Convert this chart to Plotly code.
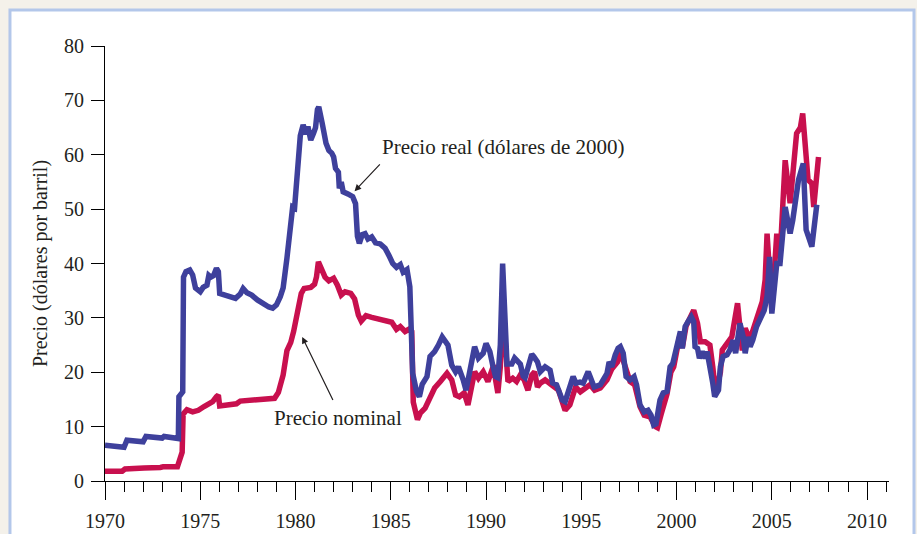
import plotly.graph_objects as go

# Precio nominal (dólares por barril)
anio_nominal = [
    1970.0, 1970.9, 1971.05, 1971.9, 1972.05, 1972.9, 1973.05, 1973.8, 1973.95, 1974.05,
    1974.1, 1974.3, 1974.6, 1974.9, 1975.2, 1975.45, 1975.65, 1975.85, 1975.95, 1976.02,
    1976.5, 1976.9, 1977.1, 1977.5, 1978.0, 1978.6, 1978.9, 1979.1, 1979.35, 1979.55,
    1979.75, 1979.9, 1980.1, 1980.3, 1980.45, 1980.8, 1981.0, 1981.1, 1981.2, 1981.35,
    1981.55, 1981.75, 1982.0, 1982.2, 1982.4, 1982.6, 1982.9, 1983.1, 1983.3, 1983.45,
    1983.7, 1984.0, 1984.4, 1984.8, 1985.05, 1985.3, 1985.5, 1985.75, 1986.0, 1986.1,
    1986.18, 1986.4, 1986.55, 1986.8, 1987.0, 1987.3, 1987.6, 1987.95, 1988.2, 1988.4,
    1988.6, 1988.85, 1989.05, 1989.4, 1989.6, 1989.85, 1990.1, 1990.2, 1990.4, 1990.5,
    1990.62, 1990.75, 1990.88, 1991.0, 1991.15, 1991.4, 1991.6, 1991.8, 1992.0, 1992.2,
    1992.4, 1992.55, 1992.7, 1992.85, 1993.1, 1993.4, 1993.8, 1994.15, 1994.4, 1994.7,
    1994.95, 1995.46, 1995.7, 1996.0, 1996.35, 1996.6, 1996.9, 1997.05, 1997.3, 1997.56,
    1997.8, 1998.08, 1998.3, 1998.6, 1998.9, 1999.0, 1999.2, 1999.5, 1999.7, 1999.85,
    2000.15, 2000.3, 2000.5, 2000.75, 2000.9, 2001.1, 2001.25, 2001.5, 2001.75, 2001.9,
    2002.05, 2002.3, 2002.4, 2002.9, 2003.2, 2003.45, 2003.6, 2003.85, 2004.2, 2004.5,
    2004.65, 2004.75, 2005.0, 2005.26, 2005.43, 2005.7, 2005.96, 2006.3, 2006.5, 2006.62,
    2006.9, 2007.1, 2007.2, 2007.45,
]
precio_nominal = [
    1.8, 1.8, 2.2, 2.2, 2.4, 2.5, 2.6, 2.6, 4.6, 5.3,
    12.3, 13.1, 12.7, 13.0, 13.7, 14.2, 14.6, 15.5, 15.8, 13.8,
    14.0, 14.2, 14.7, 14.8, 14.8, 14.9, 15.2, 16.3, 19.5, 24.0,
    25.5, 27.5, 30.5, 34.5, 35.4, 35.6, 36.2, 37.5, 40.3, 39.3,
    37.5, 36.8, 37.3, 36.0, 34.2, 34.8, 34.5, 33.5, 30.5, 29.4,
    30.4, 30.1, 29.8, 29.6, 29.2, 27.9, 28.4, 27.5, 28.0, 27.5,
    14.5, 11.3, 12.5, 13.4, 15.0, 17.1, 18.3, 19.8, 18.6, 15.8,
    15.5, 16.2, 14.0, 20.1, 18.9, 20.1, 18.3, 19.5, 21.3, 18.6,
    16.2, 21.0, 33.0, 26.0, 18.3, 18.9, 18.3, 19.5, 18.6, 16.7,
    19.5, 20.1, 17.3, 18.0, 18.6, 17.8, 16.7, 13.0, 14.0, 17.3,
    16.4, 17.7, 16.7, 17.1, 18.6, 20.6, 21.9, 23.8, 21.0, 18.3,
    17.7, 13.7, 12.1, 11.8, 10.0, 9.8, 12.4, 16.0, 20.0, 21.0,
    26.5, 24.5, 28.5, 30.5, 31.4, 29.0, 25.6, 25.6, 25.0, 21.0,
    16.1, 20.0, 24.1, 26.5, 32.7, 24.0, 28.1, 26.0, 30.2, 33.0,
    37.0, 45.5, 31.5, 45.5, 41.0, 59.0, 51.1, 63.9, 65.0, 67.6,
    55.4, 54.7, 50.4, 59.6,
]

# Precio real (dólares de 2000)
anio_real = [
    1970.0, 1970.5, 1971.0, 1971.15, 1971.6, 1972.0, 1972.15, 1972.6, 1973.0, 1973.1,
    1973.5, 1973.85, 1973.88, 1974.0, 1974.08, 1974.12, 1974.25, 1974.45, 1974.6, 1974.75,
    1974.85, 1975.0, 1975.15, 1975.35, 1975.45, 1975.55, 1975.7, 1975.85, 1975.95, 1976.02,
    1976.3, 1976.6, 1976.85, 1977.1, 1977.25, 1977.45, 1977.7, 1978.0, 1978.3, 1978.6,
    1978.8, 1979.0, 1979.2, 1979.35, 1979.55, 1979.7, 1979.85, 1979.95, 1980.1, 1980.25,
    1980.4, 1980.55, 1980.65, 1980.8, 1980.95, 1981.05, 1981.15, 1981.22, 1981.4, 1981.6,
    1981.75, 1981.9, 1982.0, 1982.1, 1982.25, 1982.3, 1982.4, 1982.5, 1982.75, 1983.0,
    1983.15, 1983.25, 1983.35, 1983.5, 1983.65, 1983.8, 1984.0, 1984.2, 1984.45, 1984.7,
    1984.9, 1985.1, 1985.3, 1985.5, 1985.65, 1985.85, 1986.0, 1986.08, 1986.15, 1986.35,
    1986.5, 1986.65, 1986.9, 1987.06, 1987.3, 1987.5, 1987.7, 1988.0, 1988.2, 1988.4,
    1988.55, 1988.8, 1988.95, 1989.16, 1989.4, 1989.6, 1989.85, 1990.0, 1990.2, 1990.37,
    1990.5, 1990.62, 1990.75, 1990.87, 1991.0, 1991.1, 1991.35, 1991.5, 1991.8, 1991.95,
    1992.05, 1992.2, 1992.4, 1992.5, 1992.7, 1992.85, 1993.1, 1993.36, 1993.5, 1993.7,
    1994.0, 1994.15, 1994.3, 1994.45, 1994.57, 1994.72, 1994.93, 1995.1, 1995.36, 1995.46,
    1995.67, 1996.0, 1996.14, 1996.35, 1996.46, 1996.6, 1996.78, 1996.93, 1997.05, 1997.2,
    1997.35, 1997.56, 1997.77, 1997.9, 1998.08, 1998.3, 1998.5, 1998.66, 1998.8, 1998.92,
    1999.13, 1999.3, 1999.5, 1999.66, 1999.8, 2000.1, 2000.2, 2000.3, 2000.45, 2000.6,
    2000.77, 2000.9, 2000.97, 2001.1, 2001.2, 2001.35, 2001.5, 2001.6, 2001.73, 2001.9,
    2002.0, 2002.2, 2002.3, 2002.44, 2002.65, 2002.8, 2002.97, 2003.1, 2003.33, 2003.5,
    2003.6, 2003.75, 2003.86, 2004.0, 2004.2, 2004.4, 2004.6, 2004.75, 2004.88, 2005.0,
    2005.26, 2005.43, 2005.7, 2005.96, 2006.1, 2006.4, 2006.65, 2006.8, 2007.1, 2007.36,
]
precio_real = [
    6.6, 6.4, 6.2, 7.5, 7.4, 7.2, 8.2, 8.0, 7.9, 8.2,
    8.0, 7.8, 15.5, 16.0, 16.4, 37.5, 38.5, 38.8, 37.9, 35.5,
    35.1, 34.8, 35.6, 36.0, 37.8, 37.5, 37.8, 39.1, 38.5, 34.5,
    34.2, 34.0, 33.6, 34.4, 35.4, 34.6, 34.2, 33.3, 32.6, 32.0,
    31.8, 32.4, 33.9, 35.5, 41.0, 45.5, 50.4, 50.2, 56.6, 63.5,
    65.5, 63.8, 65.2, 62.7, 64.0, 65.0, 68.3, 68.8, 65.8, 62.1,
    60.8, 60.3, 59.6, 57.5, 56.8, 53.8, 55.0, 53.2, 52.8, 52.3,
    51.0, 45.0, 43.7, 45.3, 45.5, 44.5, 44.9, 43.8, 43.6, 42.8,
    41.5, 40.0, 39.3, 39.8, 38.4, 38.9, 35.7, 27.0, 19.8, 16.5,
    15.5, 17.8, 19.2, 22.9, 23.8, 25.0, 26.5, 25.0, 21.3, 20.1,
    21.0, 18.6, 16.7, 20.4, 24.7, 22.6, 23.5, 25.3, 23.8, 21.0,
    19.2, 19.0, 25.0, 40.0, 30.0, 21.5, 21.5, 22.6, 21.5, 19.3,
    19.0, 21.0, 23.3, 22.9, 21.9, 20.1, 21.0, 20.4, 18.0, 17.7,
    14.9, 14.6, 16.4, 18.6, 19.2, 18.0, 18.2, 18.0, 20.1, 19.2,
    17.3, 17.7, 18.6, 19.8, 21.9, 21.0, 23.2, 24.4, 24.7, 23.5,
    19.2, 18.6, 19.2, 17.7, 14.0, 12.7, 13.0, 12.1, 10.3, 10.5,
    14.9, 16.2, 16.5, 21.0, 21.6, 26.8, 27.5, 24.4, 28.4, 29.3,
    30.2, 29.3, 24.7, 24.4, 22.6, 23.8, 22.6, 23.8, 21.6, 18.0,
    15.5, 16.7, 21.0, 22.9, 23.2, 24.1, 25.9, 23.5, 29.0, 26.5,
    23.5, 26.5, 24.7, 25.9, 28.4, 30.2, 31.4, 33.9, 41.2, 30.8,
    40.0, 40.0, 50.4, 45.5, 48.0, 55.4, 58.4, 46.2, 43.1, 50.8,
]

y_ticks = [0, 10, 20, 30, 40, 50, 60, 70, 80]
x_ticks = [1970, 1975, 1980, 1985, 1990, 1995, 2000, 2005, 2010]

FONT = "Liberation Serif"
TXT = "#231f20"

fig = go.Figure()

fig.add_trace(go.Scatter(
    x=anio_nominal, y=precio_nominal, mode="lines",
    line=dict(color="#c8104e", width=5.5),
    name="Precio nominal", showlegend=False, hoverinfo="x+y"
))
fig.add_trace(go.Scatter(
    x=anio_real, y=precio_real, mode="lines",
    line=dict(color="#3e409c", width=5.5),
    name="Precio real", showlegend=False, hoverinfo="x+y"
))

# panel background with light blue frame
fig.add_shape(
    type="rect", xref="paper", yref="paper",
    x0=-0.1212, x1=1.0319, y0=-0.2, y1=1.0828,
    line=dict(color="#b3c7ea", width=3), fillcolor="white", layer="below"
)

# annotations with arrows
fig.add_annotation(
    x=1983.1, y=53.3, ax=1984.5, ay=58.5, xref="x", yref="y", axref="x", ayref="y",
    text="", showarrow=True, arrowhead=2, arrowsize=1.1, arrowwidth=1.2, arrowcolor=TXT
)
fig.add_annotation(
    x=1984.45, y=61.4, xref="x", yref="y", xanchor="left", yanchor="middle",
    text="Precio real (dólares de 2000)", showarrow=False,
    font=dict(family=FONT, size=21, color=TXT)
)
fig.add_annotation(
    x=1980.35, y=26.5, ax=1982.0, ay=14.6, xref="x", yref="y", axref="x", ayref="y",
    text="", showarrow=True, arrowhead=2, arrowsize=1.1, arrowwidth=1.2, arrowcolor=TXT
)
fig.add_annotation(
    x=1978.75, y=11.6, xref="x", yref="y", xanchor="left", yanchor="middle",
    text="Precio nominal", showarrow=False,
    font=dict(family=FONT, size=21, color=TXT)
)

fig.update_layout(
    width=917, height=534,
    margin=dict(l=105, r=28, t=46, b=53, autoexpand=False),
    paper_bgcolor="#f4f1ea",
    plot_bgcolor="white",
    font=dict(family=FONT, size=19, color=TXT),
    showlegend=False,
)

fig.update_xaxes(
    range=[1970, 2011.15],
    tickvals=x_ticks,
    automargin=False,
    showgrid=False, zeroline=False,
    showline=True, linecolor="black", linewidth=1.2,
    ticks="outside", ticklen=18, tickwidth=1.2, tickcolor="black",
    ticklabelstandoff=4,
    minor=dict(dtick=1, tick0=1970, ticks="outside", ticklen=10,
               tickwidth=1.2, tickcolor="black", showgrid=False),
    tickfont=dict(family=FONT, size=20, color=TXT),
)
fig.update_yaxes(
    range=[0, 80],
    tickvals=y_ticks,
    automargin=False,
    showgrid=False, zeroline=False,
    showline=True, linecolor="black", linewidth=1.2,
    ticks="outside", ticklen=13, tickwidth=1.2, tickcolor="black",
    ticklabelstandoff=3,
    tickfont=dict(family=FONT, size=20, color=TXT),
    title=dict(text="Precio (dólares por barril)", standoff=10,
               font=dict(family=FONT, size=20, color=TXT)),
)

# page margin removed so the figure sits at the window's top-left corner
fig.write_html(
    "out.html",
    config={"displayModeBar": False},
    post_script="document.body.style.margin='0';document.body.style.background='#f4f1ea';",
)
